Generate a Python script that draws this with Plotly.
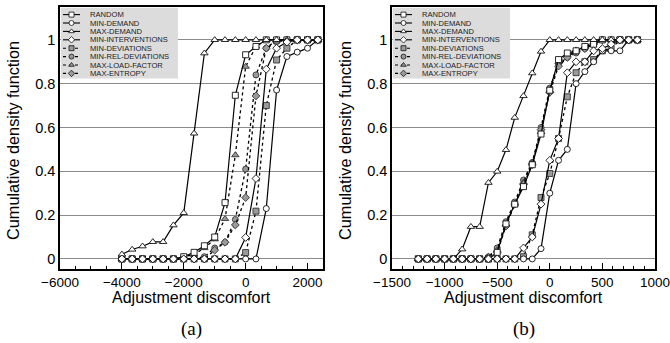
import plotly.graph_objects as go

W, H = 670, 343

# ---------------- data: panel (a) ----------------
x_a = [-4000, -3666.7, -3333.3, -3000, -2666.7, -2333.3, -2000, -1666.7, -1333.3, -1000,
       -666.7, -333.3, 0, 333.3, 666.7, 1000, 1333.3, 1666.7, 2000, 2333.3]
a_random = [0, 0, 0, 0, 0, 0, 0.01, 0.03, 0.06, 0.10, 0.257, 0.747, 0.932, 0.97, 1, 1, 1, 1, 1, 1]
a_min_demand = [0, 0, 0, 0, 0, 0, 0, 0, 0, 0, 0, 0, 0, 0, 0.23, 0.771, 0.924, 0.944, 0.962, 1.0]
a_max_demand = [0.021, 0.043, 0.058, 0.078, 0.078, 0.154, 0.21, 0.573, 0.939, 1, 1, 1, 1, 1, 1, 1, 1, 1, 1, 1]
a_min_interv = [0, 0, 0, 0, 0, 0, 0, 0, 0, 0, 0, 0, 0.098, 0.367, 0.866, 0.962, 0.99, 1, 1, 1]
a_min_dev = [0, 0, 0, 0, 0, 0, 0, 0, 0, 0, 0, 0, 0.029, 0.218, 0.70, 0.908, 0.962, 1, 1, 1]
a_min_rel_dev = [0, 0, 0, 0, 0, 0, 0, 0, 0.01, 0.05, 0.076, 0.18, 0.41, 0.84, 0.962, 1, 1, 1, 1, 1]
a_max_load = [0, 0, 0, 0, 0, 0, 0.01, 0.02, 0.05, 0.09, 0.183, 0.474, 0.878, 0.97, 1, 1, 1, 1, 1, 1]
a_max_entropy = [0, 0, 0, 0, 0, 0, 0, 0, 0, 0.04, 0.076, 0.155, 0.28, 0.744, 0.962, 0.99, 1, 1, 1, 1]

# ---------------- data: panel (b) ----------------
x_b = [-1250, -1166.7, -1083.3, -1000, -916.7, -833.3, -750, -666.7, -583.3, -500, -416.7,
       -333.3, -250, -166.7, -83.3, 0, 83.3, 166.7, 250, 333.3, 416.7, 500, 583.3, 666.7, 750, 833.3]
b_random = [0, 0, 0, 0, 0, 0, 0, 0, 0, 0.03, 0.16, 0.25, 0.33, 0.43, 0.57, 0.77, 0.91, 0.94, 0.95, 0.97, 0.98, 1, 1, 1, 1, 1]
b_min_demand = [0, 0, 0, 0, 0, 0, 0, 0, 0, 0, 0, 0, 0, 0, 0.047, 0.30, 0.45, 0.50, 0.80, 0.855, 0.90, 0.95, 0.95, 0.95, 1, 1]
b_max_demand = [0, 0, 0, 0, 0, 0.044, 0.147, 0.147, 0.348, 0.399, 0.498, 0.645, 0.744, 0.848, 0.947, 1, 1, 1, 1, 1, 1, 1, 1, 1, 1, 1]
b_min_interv = [0, 0, 0, 0, 0, 0, 0, 0, 0, 0, 0, 0, 0.05, 0.10, 0.25, 0.45, 0.55, 0.85, 0.90, 0.90, 0.95, 0.96, 0.98, 1, 1, 1]
b_min_dev = [0, 0, 0, 0, 0, 0, 0, 0, 0, 0, 0, 0, 0.01, 0.11, 0.28, 0.39, 0.55, 0.74, 0.85, 0.90, 0.91, 0.95, 0.96, 1, 1, 1]
b_min_rel_dev = [0, 0, 0, 0, 0, 0, 0, 0, 0.01, 0.05, 0.17, 0.26, 0.36, 0.44, 0.60, 0.78, 0.89, 0.92, 0.94, 0.96, 0.98, 1, 1, 1, 1, 1]
b_max_load = [0, 0, 0, 0, 0, 0, 0, 0, 0.01, 0.04, 0.16, 0.25, 0.35, 0.44, 0.58, 0.77, 0.90, 0.93, 0.95, 0.97, 0.99, 1, 1, 1, 1, 1]
b_max_entropy = [0, 0, 0, 0, 0, 0, 0, 0, 0, 0.03, 0.15, 0.25, 0.34, 0.43, 0.59, 0.76, 0.88, 0.92, 0.95, 0.96, 0.98, 1, 1, 1, 1, 1]

names = ["RANDOM", "MIN-DEMAND", "MAX-DEMAND", "MIN-INTERVENTIONS",
         "MIN-DEVIATIONS", "MIN-REL-DEVIATIONS", "MAX-LOAD-FACTOR", "MAX-ENTROPY"]
series_a = [a_random, a_min_demand, a_max_demand, a_min_interv, a_min_dev, a_min_rel_dev, a_max_load, a_max_entropy]
series_b = [b_random, b_min_demand, b_max_demand, b_min_interv, b_min_dev, b_min_rel_dev, b_max_load, b_max_entropy]

x_ticks_a = [-6000, -4000, -2000, 0, 2000]
x_ticks_b = [-1500, -1000, -500, 0, 500, 1000]
y_ticks = [0, 0.2, 0.4, 0.6, 0.8, 1]
y_ticktext = ["0", "0.2", "0.4", "0.6", "0.8", "1"]

symbols = ["square", "circle", "triangle-up", "diamond", "square", "circle", "triangle-up", "diamond"]
dashes = ["solid"] * 4 + ["dot"] * 4
fills = ["white"] * 4 + ["#9a9a9a"] * 4

FONT = "Liberation Sans, Arial, sans-serif"

fig = go.Figure()

order = [4, 5, 6, 7, 0, 1, 2, 3]
for xs, series, xa, ya in [(x_a, series_a, "x", "y"), (x_b, series_b, "x2", "y2")]:
    for i in order:
        fig.add_trace(go.Scatter(
            x=xs, y=series[i], mode="lines+markers", name=names[i], showlegend=False,
            xaxis=xa, yaxis=ya,
            line=dict(color="black", width=1.2 if dashes[i] == "solid" else 1.3, dash=dashes[i]),
            marker=dict(symbol=symbols[i], size=6 if symbols[i] != "triangle-up" else 6.5,
                        color=fills[i], line=dict(color="#111" if i < 4 else "#333", width=0.9)),
        ))

# ---------------- custom legends (pixel coordinate overlay axes) ----------------
row_y = [7.6, 16.0, 24.4, 32.8, 41.2, 49.6, 58.0, 66.4]
annotations = []
for xa, ya in [("x3", "y3"), ("x4", "y4")]:
    fig.add_trace(go.Scatter(
        x=[0.8, 118, 118, 0.8, 0.8], y=[0.8, 0.8, 71.5, 71.5, 0.8], mode="lines", fill="toself",
        fillcolor="#dcdcdc", line=dict(width=0), hoverinfo="skip", showlegend=False,
        xaxis=xa, yaxis=ya))
    for i in range(8):
        fig.add_trace(go.Scatter(
            x=[3, 20], y=[row_y[i], row_y[i]], mode="lines", showlegend=False,
            line=dict(color="black", width=1.1, dash=dashes[i]),
            hoverinfo="skip", xaxis=xa, yaxis=ya))
        fig.add_trace(go.Scatter(
            x=[11.5], y=[row_y[i]], mode="markers", showlegend=False, hoverinfo="skip",
            marker=dict(symbol=symbols[i], size=5, color=fills[i],
                        line=dict(color="#111", width=0.8)),
            xaxis=xa, yaxis=ya))
        annotations.append(dict(x=30, y=row_y[i], xref=xa, yref=ya, text=names[i],
                                showarrow=False, xanchor="left", yanchor="middle",
                                borderpad=0, borderwidth=0,
                                font=dict(family=FONT, size=7.6, color="#222")))

# ---------------- axes ----------------
ydom = [1 - 269 / H, 1 - 7 / H]
doms = {"a": [60 / W, 323 / W], "b": [392 / W, 655 / W]}

def xax(dom, rng, ticks, minor, anchor):
    return dict(domain=dom, range=rng, anchor=anchor,
                tickmode="array", tickvals=ticks, ticktext=[str(t).replace("-", "\u2212") for t in ticks],
                ticks="inside", ticklen=6, tickwidth=1.2, tickcolor="black",
                ticklabeloverflow="allow",
                minor=dict(dtick=minor, tick0=0, ticks="inside", ticklen=3, tickwidth=1, tickcolor="black"),
                showline=True, mirror=True, linecolor="black", linewidth=1.5,
                showgrid=False, zeroline=False,
                tickfont=dict(family=FONT, size=13.5, color="black"))

def yax(anchor):
    return dict(domain=ydom, range=[-0.046, 1.15], anchor=anchor,
                tickmode="array", tickvals=y_ticks, ticktext=y_ticktext,
                ticks="", showline=True, mirror=True, linecolor="black", linewidth=1.5,
                ticklabeloverflow="allow",
                showgrid=True, gridcolor="#8c8c8c", gridwidth=1.3, zeroline=False,
                tickfont=dict(family=FONT, size=14.5, color="black"))

fig.update_layout(
    width=W, height=H, margin=dict(l=0, r=0, t=0, b=0, autoexpand=False),
    paper_bgcolor="white", plot_bgcolor="white", showlegend=False,
    xaxis=xax(doms["a"], [-6000, 2500], x_ticks_a, 500, "y"),
    yaxis=yax("x"),
    xaxis2=xax(doms["b"], [-1500.5, 1000.5], x_ticks_b, 100, "y2"),
    yaxis2=yax("x2"),
    xaxis3=dict(overlaying="x", range=[0, 263], visible=False, anchor="y3"),
    yaxis3=dict(overlaying="y", range=[262, 0], visible=False, anchor="x3"),
    xaxis4=dict(overlaying="x2", range=[0, 263], visible=False, anchor="y4"),
    yaxis4=dict(overlaying="y2", range=[262, 0], visible=False, anchor="x4"),
)

for key, lab in [("a", "(a)"), ("b", "(b)")]:
    d = doms[key]
    cx = (d[0] + d[1]) / 2
    annotations.append(dict(x=cx, y=1 - 297 / H, xref="paper", yref="paper",
                            text="Adjustment discomfort", showarrow=False,
                            xanchor="center", yanchor="middle",
                            font=dict(family=FONT, size=16, color="black")))
    annotations.append(dict(x=cx, y=1 - 329 / H, xref="paper", yref="paper",
                            text=lab, showarrow=False, xanchor="center", yanchor="middle",
                            font=dict(family="Liberation Serif, Times New Roman, serif", size=19, color="black")))
    annotations.append(dict(x=d[0] - 47 / W, y=1 - 141 / H, xref="paper", yref="paper",
                            text="Cumulative density function", showarrow=False, textangle=-90,
                            xanchor="center", yanchor="middle",
                            font=dict(family=FONT, size=16.3, color="black")))

fig.update_layout(annotations=annotations)
fig.write_html("out.html")
